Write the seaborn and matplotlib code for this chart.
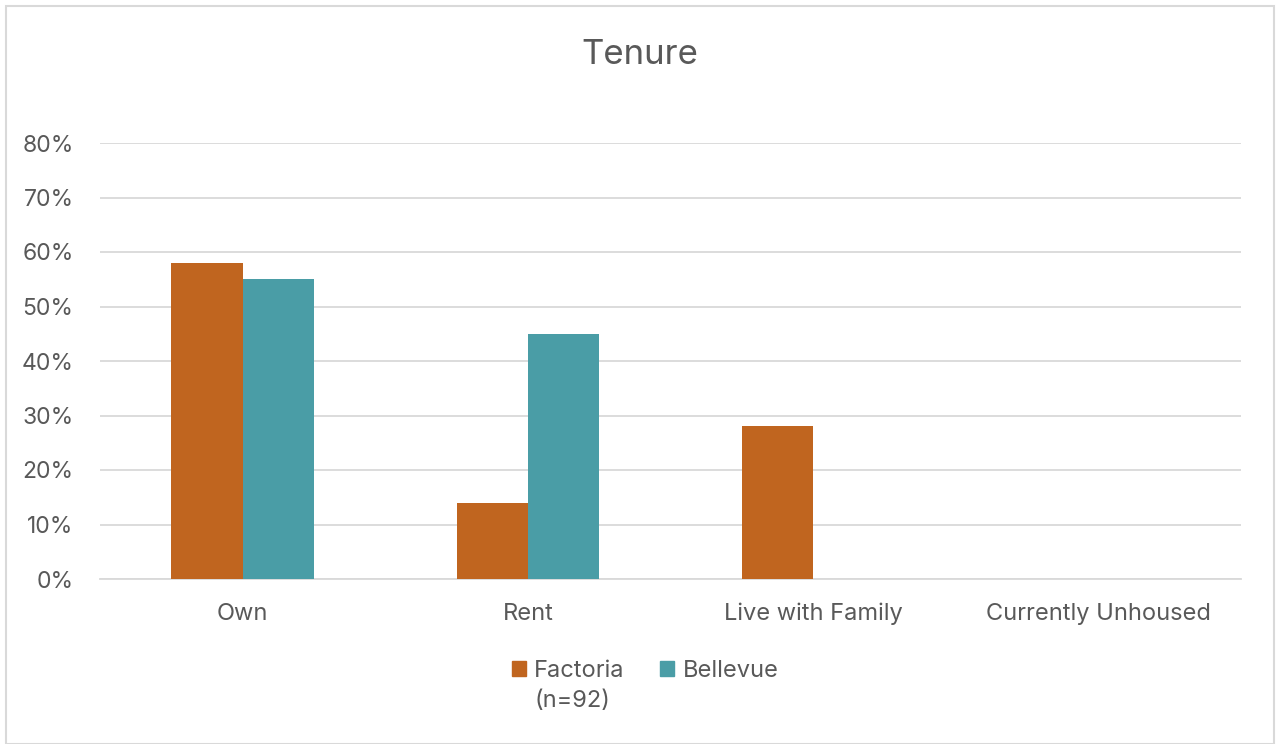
import matplotlib
matplotlib.use("Agg")
import matplotlib.pyplot as plt
import seaborn as sns
import pandas as pd
from matplotlib.patches import Rectangle
from matplotlib.ticker import PercentFormatter

categories = ["Own", "Rent", "Live with Family", "Currently Unhoused"]
series_names = ["Factoria", "Bellevue"]
series_note = "(n=92)"
factoria = [0.58, 0.14, 0.28, 0.0]
bellevue = [0.55, 0.45, 0.0, 0.0]
colors = ["#C0651F", "#4A9DA6"]
yticks = [0, 0.1, 0.2, 0.3, 0.4, 0.5, 0.6, 0.7, 0.8]

df = pd.DataFrame({
    "Category": categories * 2,
    "Series": [series_names[0]] * 4 + [series_names[1]] * 4,
    "Value": factoria + bellevue,
})

sns.set_theme(style="white")
plt.rcParams["font.family"] = ["Inter", "DejaVu Sans"]
text_color = "#595959"

W, H = 1276, 744
fig = plt.figure(figsize=(W / 100, H / 100), dpi=100)
ax = fig.add_axes([100 / W, 1 - 579 / H, 1141 / W, (579 - 143) / H])

sns.barplot(data=df, x="Category", y="Value", hue="Series", order=categories,
            hue_order=series_names, palette=colors, width=0.5, gap=0,
            saturation=1, ax=ax, linewidth=0, zorder=3)

ax.set_xlim(-0.5, 3.5)
ax.set_ylim(0, 0.8)
ax.set_yticks(yticks)
ax.yaxis.set_major_formatter(PercentFormatter(1.0, decimals=0))
ax.grid(axis="y", color="#D9D9D9", linewidth=1.3, zorder=0)
ax.set_axisbelow(True)
for s in ["top", "right", "left"]:
    ax.spines[s].set_visible(False)
ax.spines["bottom"].set_color("#D9D9D9")
ax.spines["bottom"].set_linewidth(1.3)
ax.set_xlabel("")
ax.set_ylabel("")
ax.tick_params(axis="x", length=0, labelsize=17, colors=text_color, pad=17)
ax.tick_params(axis="y", length=0, labelsize=16.5, colors=text_color, pad=19)

ax.legend_.remove()
handles = [Rectangle((0, 0), 1, 1, color=c) for c in colors]
leg = fig.legend(handles, series_names, loc="center",
                 bbox_to_anchor=(645 / W, 1 - 671 / H),
                 ncol=2, frameon=False, fontsize=17, labelcolor=text_color,
                 handlelength=0.6, handleheight=0.6, handletextpad=0.35,
                 columnspacing=1.5)

fig.canvas.draw()
renderer = fig.canvas.get_renderer()
bb = leg.get_texts()[0].get_window_extent(renderer)
fig.text(bb.x0 / W, (bb.y0 - 8) / H, series_note, ha="left", va="top",
         fontsize=17, color=text_color)

fig.text(640 / W, 1 - 55 / H, "Tenure", ha="center", va="center",
         fontsize=25, color=text_color)

fig.patches.append(Rectangle((6 / W, 0), 1 - 6 / W - 2 / W, 1 - 6 / H,
                             transform=fig.transFigure, fill=False,
                             edgecolor="#D9D9D9", linewidth=1.5))

fig.savefig("out.png", dpi=100)
